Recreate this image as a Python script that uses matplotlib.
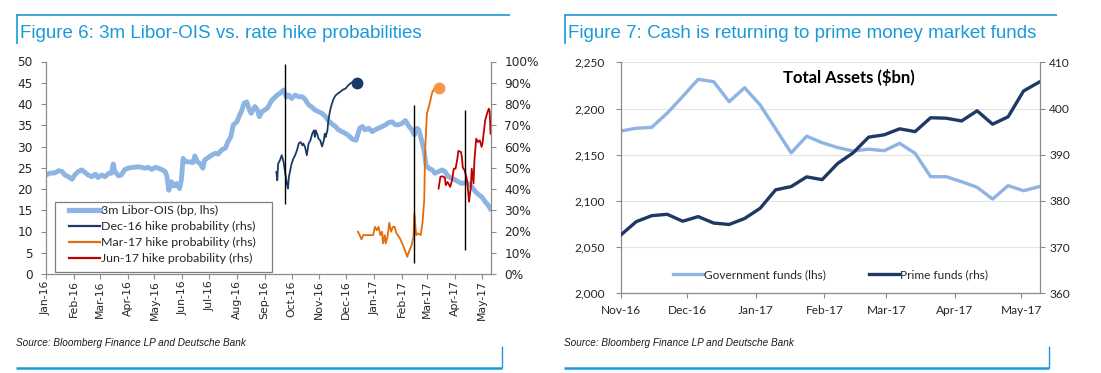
import matplotlib
matplotlib.use("Agg")
import matplotlib.pyplot as plt
import matplotlib.dates as mdates
from matplotlib.ticker import MultipleLocator, PercentFormatter, StrMethodFormatter
from matplotlib.lines import Line2D
from matplotlib.patches import Rectangle
import pandas as pd

W, H, DPI = 1101, 373, 100

# ---------------- Figure 6 data ----------------
BASE_DATE = "2016-01-01"   # day offsets below are counted from this date

libor_day = [0, 4, 10, 14, 18, 21, 25, 29, 32, 36, 40, 44, 47, 51, 55, 58, 62, 66, 70, 73,
             75, 77, 81, 84, 88, 92, 97, 103, 107, 110, 114, 118, 122, 125, 129, 133, 135, 137, 140, 143,
             146, 149, 151, 153, 156, 160, 164, 166, 169, 172, 175, 177, 181, 185, 189, 192, 196, 200, 203, 206,
             209, 213, 216, 218, 221, 224, 227, 229, 233, 236, 238, 241, 244, 247, 252, 258, 261, 265, 268, 271,
             274, 278, 282, 286, 289, 293, 297, 300, 304, 308, 312, 315, 319, 323, 326, 330, 334, 338, 342, 346,
             350, 353, 356, 360, 364, 367, 371, 375, 379, 382, 386, 390, 393, 397, 401, 405, 408, 411, 414, 416,
             419, 422, 424, 427, 431, 434, 438, 442, 445, 449, 453, 457, 460, 464, 468, 471, 475, 479, 483, 486,
             490, 494, 496]
libor_bp = [23.3, 23.7, 23.8, 24.3, 24.1, 23.3, 22.9, 22.3, 23.3, 24.1, 24.5, 23.8, 23.3, 22.9, 23.5, 22.7, 23.3, 22.9, 23.7, 23.7,
            25.9, 24.1, 23.1, 23.3, 24.6, 24.9, 25.1, 25.2, 25.1, 24.9, 25.1, 24.6, 25.1, 24.9, 24.6, 24.1, 22.9, 19.7, 21.7, 20.7,
            21.3, 20.1, 22.1, 27.2, 26.4, 26.4, 26.2, 27.8, 26.4, 26.0, 24.9, 26.8, 27.4, 28.0, 28.4, 28.2, 29.2, 29.6, 31.1, 32.2,
            35.1, 35.8, 37.4, 38.2, 40.2, 40.5, 38.6, 37.8, 39.4, 38.6, 37.0, 38.2, 38.6, 39.0, 40.9, 42.1, 42.5, 43.3, 41.7, 42.1,
            41.3, 42.1, 41.7, 41.7, 41.1, 39.8, 39.2, 38.6, 38.2, 37.8, 37.0, 36.1, 35.3, 34.7, 34.0, 33.5, 33.1, 32.5, 31.7, 31.5,
            34.3, 34.7, 33.9, 34.3, 33.5, 33.9, 34.3, 34.7, 35.1, 35.6, 35.8, 35.1, 35.1, 35.4, 36.1, 34.7, 34.0, 32.7, 34.3, 33.9,
            31.5, 28.8, 25.6, 24.9, 24.5, 23.7, 24.1, 24.5, 24.1, 22.9, 22.5, 22.1, 21.7, 21.3, 21.5, 21.3, 20.5, 19.4, 18.6, 18.2,
            17.0, 16.0, 15.2]

dec16_day = [257, 258, 259, 261, 263, 265, 267, 269, 270, 271, 274, 276, 278, 280, 282, 284, 286, 287, 289, 291,
             293, 295, 297, 299, 300, 301, 303, 304, 306, 308, 310, 311, 312, 314, 315, 317, 319, 321, 323, 326,
             328, 331, 334, 337, 340, 342, 347]
dec16_prob = [48.0, 44.1, 51.9, 53.5, 55.9, 52.8, 47.3, 41.8, 40.2, 45.7, 51.9, 54.3, 55.9, 58.2, 61.4, 62.1, 60.6, 61.4, 59.8, 55.9,
              61.4, 62.9, 66.0, 67.6, 64.5, 67.6, 65.3, 63.7, 62.9, 60.0, 62.9, 66.0, 64.5, 67.6, 72.3, 77.0, 80.2, 82.5, 84.0, 85.1,
              85.6, 86.7, 87.2, 88.7, 89.8, 90.3, 89.8]

mar17_day = [348, 350, 352, 354, 360, 365, 367, 369, 371, 373, 375, 376, 378, 379, 381, 383, 385, 387, 389, 391,
             395, 399, 402, 403, 405, 408, 410, 411, 413, 415, 418, 420, 422, 423, 425, 427, 428, 431, 434, 438]
mar17_prob = [19.9, 18.3, 16.3, 18.3, 18.3, 18.3, 22.2, 20.6, 22.2, 18.3, 19.9, 14.4, 18.3, 14.4, 17.5, 24.1, 19.9, 22.2, 22.2, 19.1,
              16.7, 12.8, 9.4, 8.1, 10.5, 13.6, 17.5, 28.4, 18.3, 19.1, 18.3, 23.8, 34.7, 58.2, 75.4, 78.6, 80.1, 85.6, 87.6, 87.6]

jun17_day = [438, 440, 442, 445, 446, 448, 451, 453, 455, 457, 459, 460, 463, 464, 465, 467, 469, 470, 472, 474,
             475, 477, 478, 480, 482, 484, 486, 487, 490, 492, 494, 495, 496]
jun17_prob = [40.2, 45.7, 46.0, 45.4, 41.8, 43.3, 41.0, 44.1, 49.6, 49.6, 54.3, 57.9, 57.4, 55.1, 50.1, 48.8, 45.7, 43.3, 34.0, 41.0,
              49.6, 42.6, 53.5, 63.7, 62.1, 62.9, 59.8, 61.4, 72.3, 75.4, 77.8, 76.7, 66.0]

event_day = [267, 411, 468]          # vertical marker lines
event_top = [98.6, 79.3, 77.0]       # % (rhs)
event_bottom = [32.9, 5.0, 11.3]     # % (rhs)

fig6_labels = ["3m Libor-OIS (bp, lhs)", "Dec-16 hike probability (rhs)",
               "Mar-17 hike probability (rhs)", "Jun-17 hike probability (rhs)"]

# ---------------- Figure 7 data ----------------
fund_dates = ["2016-11-01", "2016-11-08", "2016-11-15", "2016-11-22", "2016-11-29", "2016-12-06", "2016-12-13",
              "2016-12-20", "2016-12-27", "2017-01-03", "2017-01-10", "2017-01-17", "2017-01-24", "2017-01-31",
              "2017-02-07", "2017-02-14", "2017-02-21", "2017-02-28", "2017-03-07", "2017-03-14", "2017-03-21",
              "2017-03-28", "2017-04-04", "2017-04-11", "2017-04-18", "2017-04-25", "2017-05-02", "2017-05-09"]
gov_funds = [2175.6, 2178.6, 2179.6, 2195.0, 2213.0, 2231.6, 2229.0, 2207.4, 2222.5, 2203.8, 2178.0, 2152.0, 2170.0, 2163.0,
             2157.7, 2154.0, 2156.0, 2154.3, 2162.3, 2151.5, 2126.2, 2126.2, 2120.8, 2114.7, 2102.0, 2116.5, 2111.0, 2115.4]
prime_funds = [372.6, 375.5, 376.8, 377.1, 375.6, 376.6, 375.2, 374.9, 376.2, 378.4, 382.4, 383.1, 385.2, 384.6,
               388.1, 390.4, 393.8, 394.3, 395.6, 395.0, 398.0, 397.9, 397.3, 399.5, 396.6, 398.2, 403.8, 405.7]
fig7_labels = ["Government funds (lhs)", "Prime funds (rhs)"]

# ---------------- styles ----------------
C_LIBOR = "#8DB4E2"
C_DEC = "#1B3A66"
C_MAR = "#E46C0A"
C_MAR_DOT = "#F79646"
C_JUN = "#C00000"
C_GOV = "#8DB4E2"
C_PRIME = "#1F3864"
C_FRAME = "#1A9AD9"
C_SPINE = "#8C8C8C"
C_TXT = "#262626"


def fbox(l, t, r, b):
    return [l / W, 1 - b / H, (r - l) / W, (b - t) / H]


def to_dates(days):
    return pd.Timestamp(BASE_DATE) + pd.to_timedelta(days, unit="D")


fig = plt.figure(figsize=(W / DPI, H / DPI), dpi=DPI)
fig.patch.set_facecolor("white")

# ======== Figure 6 ========
ax1 = fig.add_axes(fbox(46, 61.5, 491, 274))
ax2 = ax1.twinx()

ax1.plot(to_dates(libor_day), libor_bp, color=C_LIBOR, lw=3.5,
         solid_joinstyle="round", solid_capstyle="round")
ax2.plot(to_dates(dec16_day), dec16_prob, color=C_DEC, lw=1.3,
         marker="o", markevery=[len(dec16_day) - 1], ms=7.5, mfc=C_DEC, mec=C_DEC)
ax2.plot(to_dates(mar17_day), mar17_prob, color=C_MAR, lw=1.3,
         marker="o", markevery=[len(mar17_day) - 1], ms=7.5, mfc=C_MAR_DOT, mec=C_MAR_DOT)
ax2.plot(to_dates(jun17_day), jun17_prob, color=C_JUN, lw=1.3)
ax2.vlines(to_dates(event_day), event_bottom, event_top, color="black", lw=1.0)

ax1.set_ylim(0, 50)
ax1.yaxis.set_major_locator(MultipleLocator(5))
ax2.set_ylim(0, 100)
ax2.yaxis.set_major_locator(MultipleLocator(10))
ax2.yaxis.set_major_formatter(PercentFormatter(xmax=100, decimals=0))
ax1.set_xlim(to_dates([0])[0], to_dates([496.5])[0])
ax1.xaxis.set_major_locator(mdates.MonthLocator())
ax1.xaxis.set_major_formatter(mdates.DateFormatter("%b-%y"))

for a in (ax1, ax2):
    a.spines["top"].set_visible(False)
    for s in a.spines.values():
        s.set_color(C_SPINE)
        s.set_linewidth(0.9)
ax1.spines["right"].set_visible(False)
ax2.spines["left"].set_visible(False)
ax2.spines["bottom"].set_visible(False)

ax1.tick_params(axis="both", direction="out", length=3.5, width=0.8, color=C_SPINE,
                labelcolor=C_TXT)
ax1.tick_params(axis="y", pad=6, labelsize=8.7)
ax1.tick_params(axis="x", pad=1, labelrotation=90, labelsize=7.8)
ax2.tick_params(axis="y", direction="out", length=3.5, width=0.8, color=C_SPINE,
                labelsize=8.7, labelcolor=C_TXT, pad=6)
for lab in ax1.get_xticklabels() + ax1.get_yticklabels() + ax2.get_yticklabels():
    lab.set_family("DejaVu Sans")

handles6 = [Line2D([], [], color=C_LIBOR, lw=3.8),
            Line2D([], [], color=C_DEC, lw=1.6),
            Line2D([], [], color=C_MAR, lw=1.6),
            Line2D([], [], color=C_JUN, lw=1.6)]
leg6 = ax2.legend(handles6, fig6_labels, loc="upper left",
                  bbox_to_anchor=(69 / W, 1 - 205 / H), bbox_transform=fig.transFigure,
                  frameon=False, borderpad=0, borderaxespad=0, handlelength=2.5,
                  handletextpad=0.1, labelspacing=0.4,
                  prop={"family": "Lato", "size": 8.9})
for t in leg6.get_texts():
    t.set_color(C_TXT)
fig.add_artist(Rectangle((55 / W, 1 - 272 / H), (272 - 55) / W, (272 - 202) / H,
                         transform=fig.transFigure, facecolor="none",
                         edgecolor="#7F7F7F", lw=0.9))

# ======== Figure 7 ========
ax3 = fig.add_axes(fbox(620.7, 62.3, 1040, 293.3))
ax4 = ax3.twinx()
fd = pd.to_datetime(fund_dates)
ax3.plot(fd, gov_funds, color=C_GOV, lw=2.4, solid_joinstyle="round")
ax4.plot(fd, prime_funds, color=C_PRIME, lw=2.4, solid_joinstyle="round")

ax3.set_ylim(2000, 2250)
ax3.yaxis.set_major_locator(MultipleLocator(50))
ax3.yaxis.set_major_formatter(StrMethodFormatter("{x:,.0f}"))
ax4.set_ylim(360, 410)
ax4.yaxis.set_major_locator(MultipleLocator(10))
ax3.set_xlim(pd.Timestamp("2016-11-01"), pd.Timestamp("2017-05-09 10:00"))
ax3.xaxis.set_major_locator(mdates.MonthLocator())
ax3.xaxis.set_major_formatter(mdates.DateFormatter("%b-%y"))
ax3.yaxis.grid(True, color="#E3E3E3", lw=0.8)
ax3.set_axisbelow(True)

for a in (ax3, ax4):
    a.spines["top"].set_visible(False)
    for s in a.spines.values():
        s.set_color(C_SPINE)
        s.set_linewidth(0.9)
ax3.spines["right"].set_visible(False)
ax4.spines["left"].set_visible(False)
ax4.spines["bottom"].set_visible(False)

ax3.tick_params(axis="both", direction="out", length=3.5, width=0.8, color=C_SPINE,
                labelsize=8.6, labelcolor=C_TXT)
ax3.tick_params(axis="y", pad=8)
ax3.tick_params(axis="x", pad=5)
ax4.tick_params(axis="y", direction="out", length=3.5, width=0.8, color=C_SPINE,
                labelsize=8.6, labelcolor=C_TXT, pad=3)
for lab in ax3.get_xticklabels() + ax3.get_yticklabels() + ax4.get_yticklabels():
    lab.set_family("Lato")

ax4.text(0.544, 0.936, "Total Assets ($bn)", transform=ax3.transAxes, ha="center",
         va="center", fontsize=12, fontweight="bold", family="Lato", color="black")

handles7 = [Line2D([], [], color=C_GOV, lw=2.4), Line2D([], [], color=C_PRIME, lw=2.4)]
leg7 = ax4.legend(handles7, fig7_labels, loc="center", bbox_to_anchor=(0.5, 0.079),
                  ncol=2, frameon=False, handlelength=2.5, handletextpad=0.1,
                  columnspacing=3.6, prop={"family": "Lato", "size": 8.6})
for t in leg7.get_texts():
    t.set_color(C_TXT)

# ======== titles, sources and frames ========
def fline(x0, y0, x1, y1, lw):
    fig.add_artist(Line2D([x0 / W, x1 / W], [1 - y0 / H, 1 - y1 / H],
                          transform=fig.transFigure, color=C_FRAME, lw=lw,
                          solid_capstyle="butt"))

fline(16, 14.5, 510, 14.5, 1.2)
fline(16.5, 14.5, 16.5, 44, 1.2)
fline(564, 14.5, 1057, 14.5, 1.2)
fline(564.5, 14.5, 564.5, 44, 1.2)
fline(16, 368, 502, 368, 1.8)
fline(501.5, 346, 501.5, 368, 1.0)
fline(564, 368, 1049, 368, 1.8)
fline(1048.5, 346, 1048.5, 368, 1.0)

fig.text(20 / W, 1 - 38 / H, "Figure 6: 3m Libor-OIS vs. rate hike probabilities",
         family="Liberation Sans", fontsize=13.5, color=C_FRAME, va="baseline", ha="left")
fig.text(568 / W, 1 - 38 / H, "Figure 7: Cash is returning to prime money market funds",
         family="Liberation Sans", fontsize=13.5, color=C_FRAME, va="baseline", ha="left")
fig.text(16 / W, 1 - 346 / H, "Source: Bloomberg Finance LP and Deutsche Bank",
         family="Liberation Sans", style="italic", fontsize=7.2, color="#1a1a1a",
         va="baseline", ha="left")
fig.text(564 / W, 1 - 346 / H, "Source: Bloomberg Finance LP and Deutsche Bank",
         family="Liberation Sans", style="italic", fontsize=7.2, color="#1a1a1a",
         va="baseline", ha="left")

fig.savefig("out.png", dpi=DPI)
